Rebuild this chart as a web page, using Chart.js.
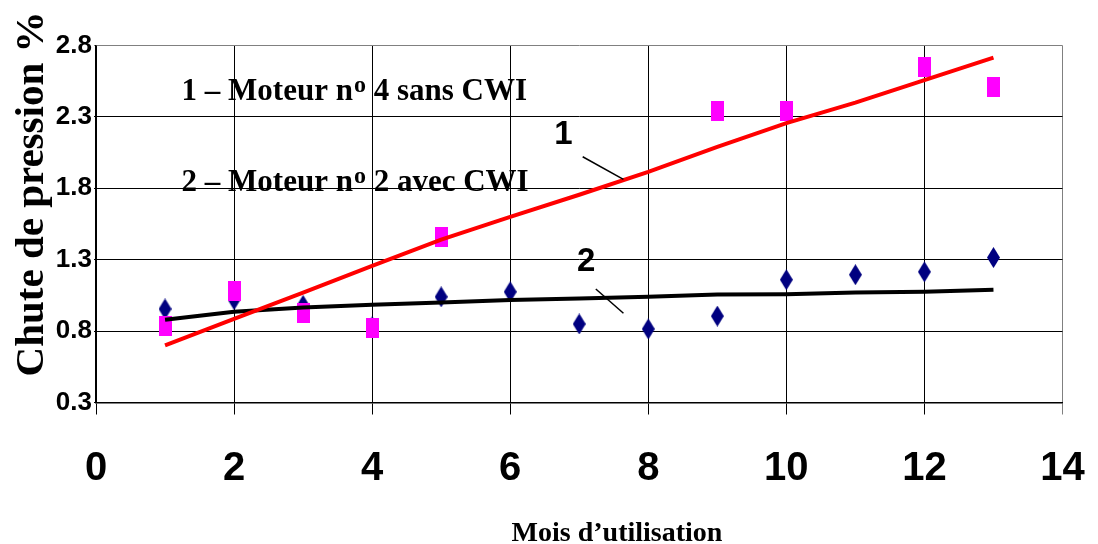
<!DOCTYPE html>
<html>
<head>
<meta charset="utf-8">
<script src="https://cdn.jsdelivr.net/npm/chart.js@4.4.0/dist/chart.umd.min.js"></script>
<style>
  body { margin: 0; background: #fff; }
  #wrap { width: 1098px; height: 544px; position: relative; }
</style>
</head>
<body>
<div id="wrap"><canvas id="chart"></canvas></div>
<script>
// Data
const months = [1, 2, 3, 4, 5, 6, 7, 8, 9, 10, 11, 12, 13];
const moteur4Months = [1, 2, 3, 4, 5, 9, 10, 12, 13];
const moteur4Values = [0.835, 1.08, 0.925, 0.82, 1.46, 2.34, 2.34, 2.65, 2.51];
const moteur2Values = [0.955, 1.02, 0.98, 0.83, 1.04, 1.075, 0.85, 0.815, 0.905, 1.16, 1.195, 1.215, 1.315];
const trend1Values = [0.70, 0.885, 1.07, 1.256, 1.44, 1.60, 1.755, 1.915, 2.09, 2.256, 2.40, 2.558, 2.715];
const trend2Values = [0.88, 0.935, 0.965, 0.985, 1.0, 1.018, 1.028, 1.04, 1.056, 1.058, 1.07, 1.075, 1.09];
const xTicks = [0, 2, 4, 6, 8, 10, 12, 14];
const yTicks = [0.3, 0.8, 1.3, 1.8, 2.3, 2.8];

const serif = "'Liberation Serif', 'Times New Roman', serif";
const sans = "'Liberation Sans', Arial, sans-serif";

function toPoints(xs, ys) {
  return xs.map((x, i) => ({ x: x, y: ys[i] }));
}

// marker images: tall magenta rectangle and navy diamond
function makeRect() {
  const c = document.createElement('canvas');
  c.width = 13; c.height = 20;
  const g = c.getContext('2d');
  g.fillStyle = '#ff00ff';
  g.fillRect(0, 0, 13, 20);
  return c;
}
function makeDiamond() {
  const c = document.createElement('canvas');
  c.width = 13; c.height = 21;
  const g = c.getContext('2d');
  g.fillStyle = '#000080';
  g.beginPath();
  g.moveTo(6.5, 0); g.lineTo(13, 10.5); g.lineTo(6.5, 21); g.lineTo(0, 10.5);
  g.closePath();
  g.fill();
  return c;
}

// text drawn over the plot (positions in data units)
const annotations = {
  legendX: 1.24,
  legend1Y: 2.418,
  legend2Y: 1.781,
  label1: { x: 6.77, y: 2.173 },
  label2: { x: 7.10, y: 1.284 },
  leader1: [7.05, 2.021, 7.64, 1.863],
  leader2: [7.24, 1.095, 7.64, 0.925]
};

function drawLegendLine(ctx, x, y, lead, tail) {
  ctx.font = 'bold 31px ' + serif;
  ctx.fillText(lead, x, y);
  let w = ctx.measureText(lead).width;
  ctx.font = 'bold 24px ' + serif;
  ctx.fillText('o', x + w + 1, y - 8);
  w += ctx.measureText('o').width + 1;
  ctx.font = 'bold 31px ' + serif;
  ctx.fillText(tail, x + w, y);
}

const overlayPlugin = {
  id: 'overlay',
  afterDraw(chart) {
    const ctx = chart.ctx;
    const xs = chart.scales.x, ys = chart.scales.y;
    const a = annotations;
    ctx.save();
    ctx.fillStyle = '#000';
    ctx.textAlign = 'left';
    ctx.textBaseline = 'alphabetic';
    const lx = xs.getPixelForValue(a.legendX);
    drawLegendLine(ctx, lx, ys.getPixelForValue(a.legend1Y), '1 \u2013 Moteur n', ' 4 sans CWI');
    drawLegendLine(ctx, lx, ys.getPixelForValue(a.legend2Y), '2 \u2013 Moteur n', ' 2 avec CWI');

    ctx.font = 'bold 33px ' + sans;
    ctx.textAlign = 'center';
    ctx.textBaseline = 'middle';
    ctx.fillText('1', xs.getPixelForValue(a.label1.x), ys.getPixelForValue(a.label1.y));
    ctx.fillText('2', xs.getPixelForValue(a.label2.x), ys.getPixelForValue(a.label2.y));

    ctx.strokeStyle = '#000';
    ctx.lineWidth = 1.5;
    [a.leader1, a.leader2].forEach(l => {
      ctx.beginPath();
      ctx.moveTo(xs.getPixelForValue(l[0]), ys.getPixelForValue(l[1]));
      ctx.lineTo(xs.getPixelForValue(l[2]), ys.getPixelForValue(l[3]));
      ctx.stroke();
    });

    // axis titles
    ctx.textBaseline = 'alphabetic';
    ctx.font = 'bold 28px ' + serif;
    ctx.fillText('Mois d\u2019utilisation', 617, 541);
    ctx.translate(43, 194);
    ctx.rotate(-Math.PI / 2);
    ctx.font = 'bold 41px ' + serif;
    ctx.fillText('Chute de pression %', 0, 0);
    ctx.restore();
  }
};

const ctx = document.getElementById('chart').getContext('2d');
const chart = new Chart(ctx, {
  type: 'scatter',
  data: {
    datasets: [
      {
        label: 'Tendance 1',
        data: toPoints(months, trend1Values),
        showLine: true,
        borderColor: '#ff0000',
        borderWidth: 4,
        pointRadius: 0,
        tension: 0
      },
      {
        label: 'Tendance 2',
        data: toPoints(months, trend2Values),
        showLine: true,
        borderColor: '#000000',
        borderWidth: 4,
        pointRadius: 0,
        tension: 0
      },
      {
        label: 'Moteur no 4 sans CWI',
        data: toPoints(moteur4Months, moteur4Values),
        pointStyle: makeRect(),
        pointRadius: 8
      },
      {
        label: 'Moteur no 2 avec CWI',
        data: toPoints(months, moteur2Values),
        pointStyle: makeDiamond(),
        pointRadius: 8
      }
    ]
  },
  options: {
    responsive: true,
    maintainAspectRatio: false,
    animation: false,
    layout: { padding: { top: 45.5, right: 35.5, left: 0, bottom: 0 } },
    plugins: {
      legend: { display: false },
      tooltip: { enabled: false }
    },
    scales: {
      x: {
        type: 'linear',
        min: 0,
        max: 14,
        afterBuildTicks: s => { s.ticks = xTicks.map(v => ({ value: v })); },
        afterFit: s => {
          s.height = 141.5;
          s.paddingLeft = 0;
          s.paddingRight = 0;
        },
        grid: {
          color: c => (c.tick && c.tick.value === 14 ? '#808080' : '#000'),
          lineWidth: 1,
          tickLength: 12
        },
        border: { color: '#000', width: 1.5 },
        ticks: {
          color: '#000',
          padding: 30,
          font: { family: sans, size: 40, weight: 'bold' }
        }
      },
      y: {
        type: 'linear',
        min: 0.3,
        max: 2.8,
        afterBuildTicks: s => { s.ticks = yTicks.map(v => ({ value: v })); },
        afterFit: s => {
          s.width = 96;
          s.paddingTop = 0;
          s.paddingBottom = 0;
        },
        grid: {
          color: c => (c.tick && c.tick.value === 2.8 ? '#808080' : '#000'),
          lineWidth: 1,
          tickLength: 2
        },
        border: { color: '#000', width: 1.5 },
        ticks: {
          color: '#000',
          padding: 2,
          callback: v => v.toFixed(1),
          font: { family: sans, size: 26, weight: 'bold' }
        }
      }
    }
  },
  plugins: [overlayPlugin]
});
</script>
</body>
</html>
